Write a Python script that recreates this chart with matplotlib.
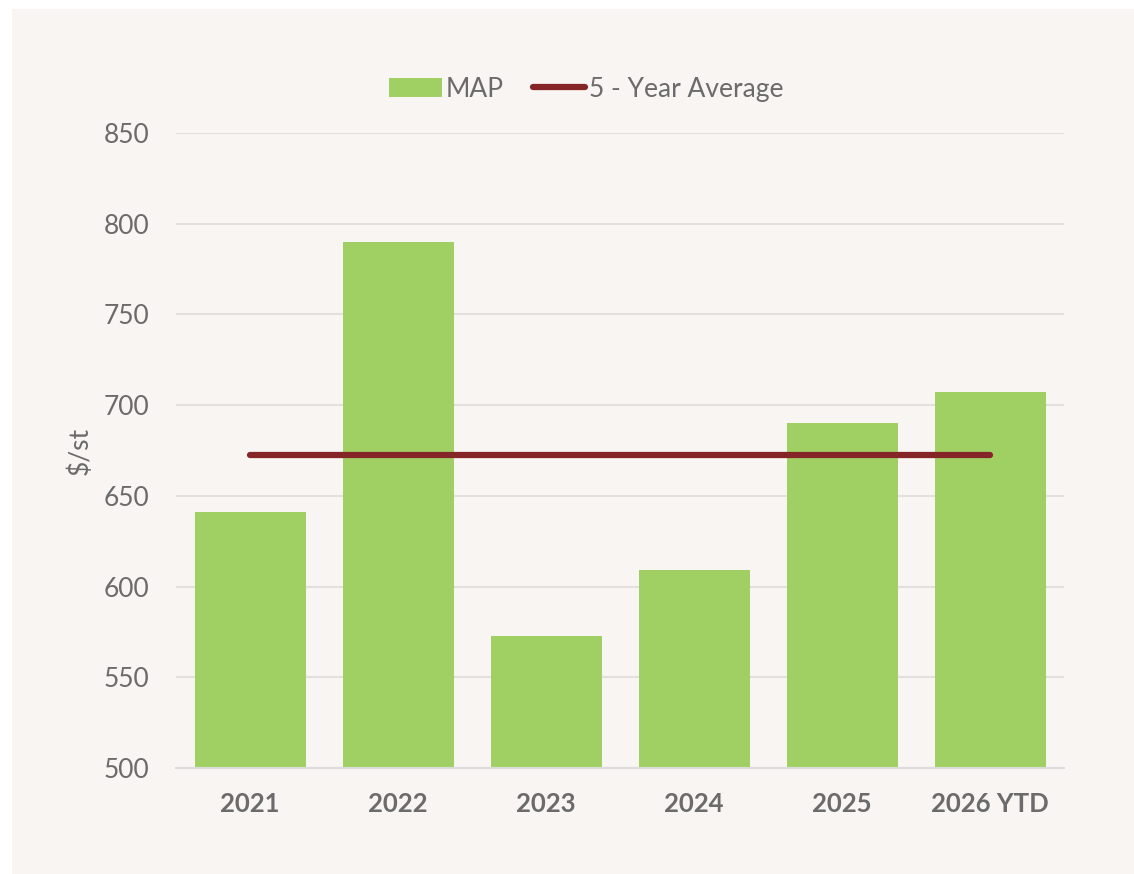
import matplotlib.pyplot as plt
from matplotlib.patches import Rectangle
from matplotlib.lines import Line2D
from matplotlib.patches import Patch

anos = ["2021", "2022", "2023", "2024", "2025", "2026 YTD"]
map_precos = [641, 790, 573, 609, 690, 707]
media_5anos = [672.5] * len(anos)

fundo = "#f8f5f2"
verde = "#a0cf63"
vermelho = "#862528"
cinza = "#6b6b6b"

plt.rcParams["font.family"] = ["Lato", "DejaVu Sans"]

fig = plt.figure(figsize=(11.34, 8.74), dpi=100)
fig.patch.set_facecolor("white")
fig.patches.append(Rectangle((12 / 1134, 0), 1 - 12 / 1134, 1 - 9 / 874,
                             transform=fig.transFigure, facecolor=fundo,
                             edgecolor="none", zorder=-10))

ax = fig.add_axes([176 / 1134, 106 / 874, 888 / 1134, 635 / 874])
ax.set_facecolor(fundo)

x = list(range(len(anos)))
ax.bar(x, map_precos, width=0.75, color=verde, zorder=2)
ax.plot(x, media_5anos, color=vermelho, linewidth=4.5,
        solid_capstyle="round", zorder=3)

ax.set_xlim(-0.5, len(anos) - 0.5)
ax.set_ylim(500, 850)
ax.set_yticks(range(500, 851, 50))
ax.grid(axis="y", color="#e2dfdd", linewidth=1.5, zorder=0)
ax.set_axisbelow(True)

for lado in ["top", "right", "left"]:
    ax.spines[lado].set_visible(False)
ax.spines["bottom"].set_color("#dcdcdc")
ax.spines["bottom"].set_linewidth(1.5)

ax.set_xticks(x)
ax.set_xticklabels(anos, fontsize=18.5, fontweight="bold", color=cinza)
ax.tick_params(axis="x", length=0, pad=17.5)
ax.tick_params(axis="y", length=0, pad=19, labelsize=19, labelcolor=cinza)
ax.set_ylabel("$/st", fontsize=19, color=cinza, labelpad=8)

handles = [Patch(facecolor=verde, edgecolor="none"),
           Line2D([0], [0], color=vermelho, linewidth=4.5, solid_capstyle="round")]
fig.legend(handles, ["MAP", "5 - Year Average"], loc="center",
           bbox_to_anchor=(0.517, 0.898), ncol=2, frameon=False,
           fontsize=19, labelcolor=cinza, handlelength=2.0,
           handletextpad=0.15, columnspacing=1.1)

fig.savefig("out.png", dpi=100, facecolor=fig.get_facecolor())
